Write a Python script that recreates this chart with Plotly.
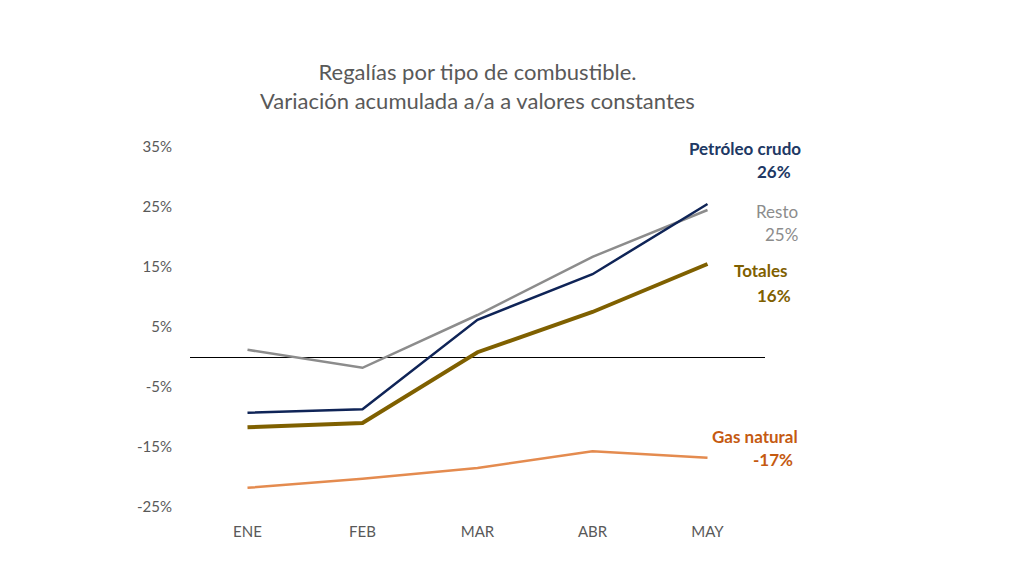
import plotly.graph_objects as go

meses = ["ENE", "FEB", "MAR", "ABR", "MAY"]
petroleo = [-9.3, -8.7, 6.2, 13.8, 25.5]
resto = [1.2, -1.8, 7.0, 16.7, 24.5]
totales = [-11.7, -11.0, 0.8, 7.5, 15.5]
gas = [-21.8, -20.3, -18.5, -15.7, -16.8]

tick_vals = [-25, -15, -5, 5, 15, 25, 35]
tick_text = ["-25%", "-15%", "-5%", "5%", "15%", "25%", "35%"]

font_fam = "Lato, 'Open Sans', sans-serif"

fig = go.Figure()
fig.add_trace(go.Scatter(x=meses, y=resto, mode="lines", line=dict(color="#8C8C8C", width=2.5), name="Resto"))
fig.add_trace(go.Scatter(x=meses, y=petroleo, mode="lines", line=dict(color="#0F2457", width=2.5), name="Petróleo crudo"))
fig.add_trace(go.Scatter(x=meses, y=totales, mode="lines", line=dict(color="#7F6000", width=4), name="Totales"))
fig.add_trace(go.Scatter(x=meses, y=gas, mode="lines", line=dict(color="#E48B4F", width=2.5), name="Gas natural"))

labels = [
    ("<b>Petróleo crudo</b>", 34.8, "#203864"),
    ("<b>26%</b>", 31.0, "#203864"),
    ("Resto", 24.3, "#8C8C8C"),
    ("25%", 20.5, "#8C8C8C"),
    ("<b>Totales</b>", 14.5, "#7F6000"),
    ("<b>16%</b>", 10.2, "#7F6000"),
    ("<b>Gas natural</b>", -13.2, "#C55A11"),
    ("<b>-17%</b>", -17.0, "#C55A11"),
]
xr = [803, 793, 800, 800, 789, 793, 800, 795]
for (t, yv, c), xp in zip(labels, xr):
    fig.add_annotation(text=t, xref="paper", x=(xp - 190) / 575, yref="y", y=yv,
                       xanchor="right", yanchor="middle", showarrow=False,
                       font=dict(size=17, color=c, family=font_fam))

fig.update_layout(
    width=1024, height=576,
    margin=dict(l=190, r=259, t=147, b=69),
    paper_bgcolor="white", plot_bgcolor="white",
    showlegend=False,
    title=dict(text="Regalías por tipo de combustible.<br>Variación acumulada a/a a valores constantes",
               x=477.5 / 1024, xanchor="center", y=1 - 80 / 576, yanchor="middle",
               font=dict(size=22, color="#595959", family=font_fam)),
    xaxis=dict(range=[-0.5, 4.5], showgrid=False, showline=False, zeroline=False,
               ticks="outside", ticklen=11, tickcolor="rgba(0,0,0,0)",
               tickfont=dict(size=15, color="#595959", family=font_fam)),
    yaxis=dict(range=[-25, 35], tickvals=tick_vals, ticktext=tick_text,
               showgrid=False, showline=False, zeroline=True, zerolinecolor="#000000", zerolinewidth=1,
               ticks="outside", ticklen=14, tickcolor="rgba(0,0,0,0)",
               tickfont=dict(size=15, color="#595959", family=font_fam)),
)

fig.write_html("out.html")
